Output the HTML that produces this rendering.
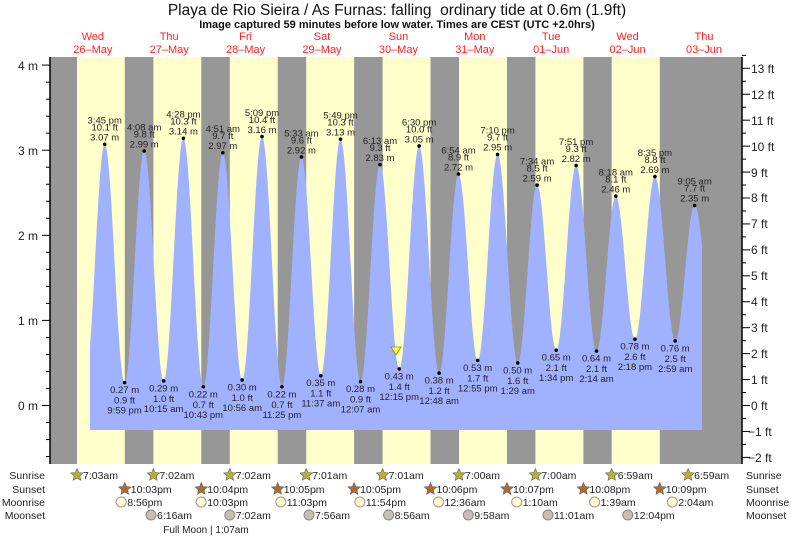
<!DOCTYPE html>
<html><head><meta charset="utf-8"><style>
html,body{margin:0;padding:0;background:#fff;}
svg{display:block;font-family:"Liberation Sans",sans-serif;}
.l text{font-size:9.5px;text-anchor:middle;fill:#222;}
.ax{font-size:12px;fill:#222;}
.row{font-size:10.5px;fill:#222;}
.day{font-size:11px;fill:#ff2020;text-anchor:middle;}
</style></head><body>
<svg id="s" width="793" height="537" viewBox="0 0 793 537" xmlns="http://www.w3.org/2000/svg">
<rect x="0" y="0" width="793" height="537" fill="#fff"/>
<text x="397" y="15" text-anchor="middle" font-size="15.5" fill="#111">Playa de Rio Sieira / As Furnas: falling&#160; ordinary tide at 0.6m (1.9ft)</text>
<text x="397" y="28" text-anchor="middle" font-size="11" font-weight="bold" fill="#111">Image captured 59 minutes before low water. Times are CEST (UTC +2.0hrs)</text>
<g class="day">
<text x="92.8" y="40">Wed</text><text x="92.8" y="53">26–May</text>
<text x="169.2" y="40">Thu</text><text x="169.2" y="53">27–May</text>
<text x="245.6" y="40">Fri</text><text x="245.6" y="53">28–May</text>
<text x="322" y="40">Sat</text><text x="322" y="53">29–May</text>
<text x="398.4" y="40">Sun</text><text x="398.4" y="53">30–May</text>
<text x="474.8" y="40">Mon</text><text x="474.8" y="53">31–May</text>
<text x="551.2" y="40">Tue</text><text x="551.2" y="53">01–Jun</text>
<text x="627.6" y="40">Wed</text><text x="627.6" y="53">02–Jun</text>
<text x="704" y="40">Thu</text><text x="704" y="53">03–Jun</text>
</g>
<rect x="50" y="57" width="692" height="407" fill="#ffffcc"/>
<g fill="#979797">
<rect x="50" y="57" width="27" height="407"/>
<rect x="124.8" y="57" width="28.6" height="407"/>
<rect x="201.3" y="57" width="28.5" height="407"/>
<rect x="277.7" y="57" width="28.5" height="407"/>
<rect x="354.1" y="57" width="28.5" height="407"/>
<rect x="430.5" y="57" width="28.5" height="407"/>
<rect x="507" y="57" width="28.4" height="407"/>
<rect x="583.4" y="57" width="28.3" height="407"/>
<rect x="659.8" y="57" width="82.2" height="407"/>
</g>
<path id="tide" fill="#a0b2ff" d=""/>
<polygon points="391,347 401,347 396,355" fill="#ffff44" stroke="#888800" stroke-width="0.8"/>
<g id="axes"></g>
<g id="dots" fill="#000"></g>
<g class="ax" text-anchor="end">
<text x="38" y="70">4 m</text><text x="38" y="155">3 m</text><text x="38" y="240">2 m</text><text x="38" y="325">1 m</text><text x="38" y="410">0 m</text>
</g>
<g class="ax">
<text x="751" y="73">13 ft</text><text x="751" y="99">12 ft</text><text x="751" y="125">11 ft</text><text x="751" y="151">10 ft</text><text x="751" y="177">9 ft</text><text x="751" y="202">8 ft</text><text x="751" y="228">7 ft</text><text x="751" y="254">6 ft</text><text x="751" y="280">5 ft</text><text x="751" y="306">4 ft</text><text x="751" y="332">3 ft</text><text x="751" y="358">2 ft</text><text x="751" y="384">1 ft</text><text x="751" y="410">0 ft</text><text x="748" y="436">−1 ft</text><text x="748" y="462">−2 ft</text>
</g>
<g class="l">
<text x="104.7" y="123.6">3:45 pm</text><text x="104.7" y="130.6">10.1 ft</text><text x="104.7" y="140.6">3.07 m</text>
<text x="144.2" y="130.3">4:08 am</text><text x="144.2" y="137.3">9.8 ft</text><text x="144.2" y="147.3">2.99 m</text>
<text x="183.4" y="117.6">4:28 pm</text><text x="183.4" y="124.6">10.3 ft</text><text x="183.4" y="134.6">3.14 m</text>
<text x="222.8" y="132">4:51 am</text><text x="222.8" y="139">9.7 ft</text><text x="222.8" y="149">2.97 m</text>
<text x="262" y="115.9">5:09 pm</text><text x="262" y="122.9">10.4 ft</text><text x="262" y="132.9">3.16 m</text>
<text x="301.4" y="136.3">5:33 am</text><text x="301.4" y="143.3">9.6 ft</text><text x="301.4" y="153.3">2.92 m</text>
<text x="340.5" y="118.5">5:49 pm</text><text x="340.5" y="125.5">10.3 ft</text><text x="340.5" y="135.5">3.13 m</text>
<text x="380" y="143.9">6:13 am</text><text x="380" y="150.9">9.3 ft</text><text x="380" y="160.9">2.83 m</text>
<text x="419.1" y="125.3">6:30 pm</text><text x="419.1" y="132.3">10.0 ft</text><text x="419.1" y="142.3">3.05 m</text>
<text x="458.5" y="153.3">6:54 am</text><text x="458.5" y="160.3">8.9 ft</text><text x="458.5" y="170.3">2.72 m</text>
<text x="497.6" y="133.7">7:10 pm</text><text x="497.6" y="140.7">9.7 ft</text><text x="497.6" y="150.7">2.95 m</text>
<text x="537.1" y="164.3">7:34 am</text><text x="537.1" y="171.3">8.5 ft</text><text x="537.1" y="181.3">2.59 m</text>
<text x="576.1" y="144.8">7:51 pm</text><text x="576.1" y="151.8">9.3 ft</text><text x="576.1" y="161.8">2.82 m</text>
<text x="615.8" y="175.4">8:18 am</text><text x="615.8" y="182.4">8.1 ft</text><text x="615.8" y="192.4">2.46 m</text>
<text x="654.9" y="155.9">8:35 pm</text><text x="654.9" y="162.9">8.8 ft</text><text x="654.9" y="172.9">2.69 m</text>
<text x="694.6" y="184.7">9:05 am</text><text x="694.6" y="191.7">7.7 ft</text><text x="694.6" y="201.7">2.35 m</text>
<text x="124.6" y="393">0.27 m</text><text x="124.6" y="403.5">0.9 ft</text><text x="124.6" y="413.5">9:59 pm</text>
<text x="163.6" y="391.3">0.29 m</text><text x="163.6" y="401.8">1.0 ft</text><text x="163.6" y="411.8">10:15 am</text>
<text x="203.3" y="397.3">0.22 m</text><text x="203.3" y="407.8">0.7 ft</text><text x="203.3" y="417.8">10:43 pm</text>
<text x="242.2" y="390.5">0.30 m</text><text x="242.2" y="401">1.0 ft</text><text x="242.2" y="411">10:56 am</text>
<text x="281.9" y="397.3">0.22 m</text><text x="281.9" y="407.8">0.7 ft</text><text x="281.9" y="417.8">11:25 pm</text>
<text x="320.8" y="386.2">0.35 m</text><text x="320.8" y="396.7">1.1 ft</text><text x="320.8" y="406.7">11:37 am</text>
<text x="360.5" y="392.2">0.28 m</text><text x="360.5" y="402.7">0.9 ft</text><text x="360.5" y="412.7">12:07 am</text>
<text x="399.2" y="379.5">0.43 m</text><text x="399.2" y="390">1.4 ft</text><text x="399.2" y="400">12:15 pm</text>
<text x="439.1" y="383.7">0.38 m</text><text x="439.1" y="394.2">1.2 ft</text><text x="439.1" y="404.2">12:48 am</text>
<text x="477.7" y="370.9">0.53 m</text><text x="477.7" y="381.4">1.7 ft</text><text x="477.7" y="391.4">12:55 pm</text>
<text x="517.7" y="373.5">0.50 m</text><text x="517.7" y="384">1.6 ft</text><text x="517.7" y="394">1:29 am</text>
<text x="556.2" y="360.7">0.65 m</text><text x="556.2" y="371.2">2.1 ft</text><text x="556.2" y="381.2">1:34 pm</text>
<text x="596.5" y="361.6">0.64 m</text><text x="596.5" y="372.1">2.1 ft</text><text x="596.5" y="382.1">2:14 am</text>
<text x="634.9" y="349.7">0.78 m</text><text x="634.9" y="360.2">2.6 ft</text><text x="634.9" y="370.2">2:18 pm</text>
<text x="675.2" y="351.4">0.76 m</text><text x="675.2" y="361.9">2.5 ft</text><text x="675.2" y="371.9">2:59 am</text>
</g>
<g class="row" text-anchor="end">
<text x="45" y="479">Sunrise</text><text x="45" y="493">Sunset</text><text x="45" y="506">Moonrise</text><text x="45" y="519">Moonset</text>
</g>
<g class="row">
<text x="746" y="479">Sunrise</text><text x="746" y="493">Sunset</text><text x="746" y="506">Moonrise</text><text x="746" y="519">Moonset</text>
</g>
<g id="sym"></g>
<g class="row">
<text x="83" y="479">7:03am</text><text x="159.4" y="479">7:02am</text><text x="235.8" y="479">7:02am</text><text x="312.2" y="479">7:01am</text><text x="388.6" y="479">7:01am</text><text x="465" y="479">7:00am</text><text x="541.4" y="479">7:00am</text><text x="617.7" y="479">6:59am</text><text x="694.1" y="479">6:59am</text>
<text x="130.8" y="493">10:03pm</text><text x="207.3" y="493">10:04pm</text><text x="283.7" y="493">10:05pm</text><text x="360.1" y="493">10:05pm</text><text x="436.5" y="493">10:06pm</text><text x="513" y="493">10:07pm</text><text x="589.4" y="493">10:08pm</text><text x="665.8" y="493">10:09pm</text>
<text x="127.2" y="506">8:56pm</text><text x="207.2" y="506">10:03pm</text><text x="286.8" y="506">11:03pm</text><text x="365.9" y="506">11:54pm</text><text x="444.5" y="506">12:36am</text><text x="522.7" y="506">1:10am</text><text x="600.6" y="506">1:39am</text><text x="678.3" y="506">2:04am</text>
<text x="157" y="519">6:16am</text><text x="235.8" y="519">7:02am</text><text x="315" y="519">7:56am</text><text x="394.6" y="519">8:56am</text><text x="474.3" y="519">9:58am</text><text x="554" y="519">11:01am</text><text x="633.8" y="519">12:04pm</text>
<text x="206" y="533" text-anchor="middle" font-size="10">Full Moon | 1:07am</text>
</g>
</svg>
<script>
(function(){
function Y(m){return 405.5-m*85.1;}
var ex=[[85.2,0.3],[104.7,3.07],[124.6,0.27],[144.2,2.99],[163.6,0.29],[183.4,3.14],[203.3,0.22],[222.8,2.97],[242.2,0.30],[262,3.16],[281.9,0.22],[301.4,2.92],[320.8,0.35],[340.5,3.13],[360.5,0.28],[380,2.83],[399.2,0.43],[419.1,3.05],[439.1,0.38],[458.5,2.72],[477.7,0.53],[497.6,2.95],[517.7,0.50],[537.1,2.59],[556.2,0.65],[576.1,2.82],[596.5,0.64],[615.8,2.46],[634.9,0.78],[654.9,2.69],[675.2,0.76],[694.6,2.35],[714.3,0.85]];
function h(x){for(var i=0;i<ex.length-1;i++){var a=ex[i],b=ex[i+1];if(x>=a[0]&&x<=b[0]){var t=(x-a[0])/(b[0]-a[0]);return a[1]+(b[1]-a[1])*(1-Math.cos(Math.PI*t))/2;}}return 0;}
var d="M90,430";for(var x=90;x<=702;x+=0.5){d+=" L"+x+","+Y(h(x)).toFixed(2);}d+=" L702,430 Z";
document.getElementById("tide").setAttribute("d",d);
var ax=document.getElementById("axes"),s="";
s+='<line x1="50" y1="57" x2="50" y2="464" stroke="#000" stroke-width="1.5"/>';
s+='<line x1="742" y1="57" x2="742" y2="464" stroke="#000" stroke-width="1.5"/>';
for(var m=-0.6;m<=4.01;m+=0.2){var y=Y(m),maj=Math.abs(m-Math.round(m))<0.01;s+='<line x1="'+(maj?42:46)+'" y1="'+y+'" x2="50" y2="'+y+'" stroke="#000"/>';}
for(var f=-2;f<=13.5;f+=0.5){var y=Y(f*0.3048),maj=Math.abs(f-Math.round(f))<0.01;s+='<line x1="742" y1="'+y+'" x2="'+(maj?750:746)+'" y2="'+y+'" stroke="#000"/>';}
ax.innerHTML=s;
var dots="";for(var i=1;i<ex.length-1;i++){dots+='<circle cx="'+ex[i][0]+'" cy="'+Y(ex[i][1])+'" r="1.8"/>';}
document.getElementById("dots").innerHTML=dots;
function star(cx,cy,fill){var p=[];for(var k=0;k<10;k++){var r=k%2?3:6.5,a=-Math.PI/2+k*Math.PI/5;p.push((cx+r*Math.cos(a)).toFixed(1)+","+(cy+r*Math.sin(a)).toFixed(1));}return '<polygon points="'+p.join(" ")+'" fill="'+fill+'" stroke="#665" stroke-width="0.6"/>';}
var sy="";
[77,153.4,229.8,306.2,382.6,459,535.4,611.7,688.1].forEach(function(x){sy+=star(x,475,"#b8b030");});
[124.8,201.3,277.7,354.1,430.5,507,583.4,659.8].forEach(function(x){sy+=star(x,489,"#b06830");});
[121.2,201.2,280.8,359.9,438.5,516.7,594.6,672.3].forEach(function(x){sy+='<circle cx="'+x+'" cy="502" r="5" fill="#ffffcc" stroke="#999"/>';});
[151,229.8,309,388.6,468.3,548,627.8].forEach(function(x){sy+='<circle cx="'+x+'" cy="515" r="5" fill="#c4c0b4" stroke="#888"/>';});
document.getElementById("sym").innerHTML=sy;
})();
</script>
</body></html>
